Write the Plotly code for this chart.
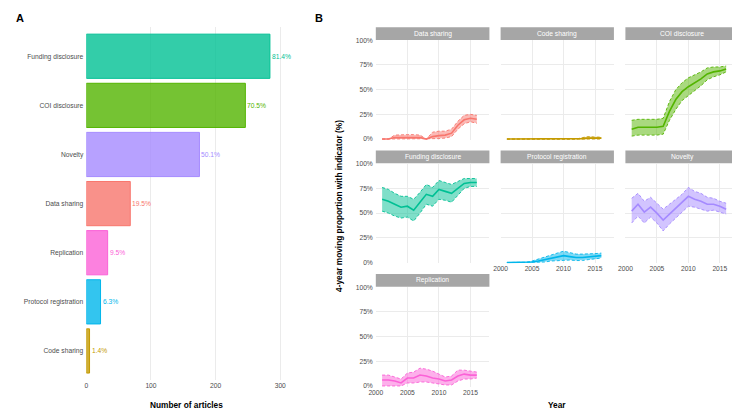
import plotly.graph_objects as go

# ---------------- data ----------------
bar_categories = ["Funding disclosure", "COI disclosure", "Novelty", "Data sharing",
                  "Replication", "Protocol registration", "Code sharing"]
bar_counts = [284, 246, 175, 68, 33, 22, 5]
bar_labels = ["81.4%", "70.5%", "50.1%", "19.5%", "9.5%", "6.3%", "1.4%"]

years = list(range(2001, 2017))

facet_order = ["Data sharing", "Code sharing", "COI disclosure", "Funding disclosure",
               "Protocol registration", "Novelty", "Replication"]

y_tick_vals = [0, 25, 50, 75, 100]
y_tick_text = ["0%", "25%", "50%", "75%", "100%"]
x_tick_vals = [2000, 2005, 2010, 2015]
bar_tick_vals = [0, 100, 200, 300]

data_sharing_mean = [0, 0, 1.5, 1.5, 1.5, 1.5, 1.5, 0, 2.5, 3.5, 4, 6, 14, 19.5, 21, 20]
data_sharing_upper = [0, 0, 4, 4.5, 4.5, 4.5, 4, 0, 7, 8, 8, 10, 18, 24, 25, 24]
data_sharing_lower = [0, 0, 0, 0, 0, 0, 0, 0, 0, 0.5, 1, 2.5, 10, 15.5, 17.5, 16]

code_sharing_mean = [0, 0, 0, 0, 0, 0, 0, 0, 0, 0, 0, 0, 0.5, 1, 1, 1]
code_sharing_upper = [0, 0, 0, 0, 0, 0, 0, 0, 0, 0, 0, 0, 1.5, 2.5, 2, 2]
code_sharing_lower = [0, 0, 0, 0, 0, 0, 0, 0, 0, 0, 0, 0, 0, 0, 0, 0]

coi_mean = [10, 12, 12, 12, 12, 13, 28, 40, 48, 53, 57, 61, 66, 68, 69, 71]
coi_upper = [19, 20, 20, 20, 20, 21, 38, 50, 57, 62, 65, 68, 72, 73, 73, 74]
coi_lower = [3, 4, 4, 4, 4, 5, 19, 30, 39, 44, 49, 54, 60, 63, 65, 68]

funding_mean = [64, 62, 59, 56, 57, 53, 61, 69, 67, 74, 72, 70, 75, 80, 81, 81]
funding_upper = [76, 74, 70, 67, 67, 64, 71, 79, 76, 83, 81, 79, 82, 85, 85, 85]
funding_lower = [52, 50, 47, 45, 46, 42, 50, 59, 57, 64, 63, 61, 68, 75, 77, 77]

protocol_mean = [0, 0, 0, 0, 0.5, 1.5, 3, 4.5, 5.5, 7, 6, 5, 5, 5.5, 6, 7]
protocol_upper = [0, 0, 0, 0, 1.5, 3.5, 6, 8, 10, 11.5, 10, 8.5, 8.5, 8.5, 9, 9.5]
protocol_lower = [0, 0, 0, 0, 0, 0, 0.5, 1.5, 2, 2.5, 2.5, 2, 2, 3, 3.5, 4.5]

novelty_mean = [52, 59, 51, 56, 50, 43, 49, 55, 60, 67, 64, 62, 59, 59, 57, 54]
novelty_upper = [65, 70, 62, 66, 60, 54, 59, 64, 69, 76, 72, 70, 66, 65, 62, 60]
novelty_lower = [40, 47, 40, 46, 40, 32, 39, 45, 51, 57, 56, 54, 52, 53, 51, 49]

replication_mean = [6, 6, 5, 3, 8, 8, 11, 10, 8, 7, 5, 6, 10, 12, 11, 11]
replication_upper = [11, 11, 9, 7, 13, 14, 18, 17, 15, 12, 9, 10, 16, 16, 15, 14]
replication_lower = [0, 0, 0, 0, 3, 3, 4, 4, 3, 2, 1, 1, 5, 7, 7, 8]

series = {
    "Data sharing": (data_sharing_mean, data_sharing_lower, data_sharing_upper),
    "Code sharing": (code_sharing_mean, code_sharing_lower, code_sharing_upper),
    "COI disclosure": (coi_mean, coi_lower, coi_upper),
    "Funding disclosure": (funding_mean, funding_lower, funding_upper),
    "Protocol registration": (protocol_mean, protocol_lower, protocol_upper),
    "Novelty": (novelty_mean, novelty_lower, novelty_upper),
    "Replication": (replication_mean, replication_lower, replication_upper),
}

# ---------------- style ----------------
colors = {
    "Data sharing": (248, 118, 109),
    "Code sharing": (196, 154, 0),
    "COI disclosure": (83, 180, 0),
    "Funding disclosure": (0, 192, 148),
    "Protocol registration": (0, 182, 235),
    "Novelty": (165, 138, 255),
    "Replication": (251, 97, 215),
}


def rgb(c, a=1.0):
    return "rgba(%d,%d,%d,%.2f)" % (c[0], c[1], c[2], a)


# the page body margin places the figure 8px in from the window corner;
# lay everything out in window pixels and convert
OX, OY = 8, 8
W, H = 740 - OX, 411 - OY
FONT = "Liberation Sans, Arial, sans-serif"
TXT = "#4D4D4D"
GRID = "#EBEBEB"
FS = 6.7


def fx(p):
    return (p - OX) / W


def fy(p):
    return 1 - (p - OY) / H


fig = go.Figure()
annotations = []
shapes = []

# ---------------- panel A: bars ----------------
fig.add_trace(go.Bar(
    x=bar_counts, y=bar_categories, orientation="h", width=0.9,
    marker=dict(color=[rgb(colors[c], 0.8) for c in bar_categories],
                line=dict(color=[rgb(colors[c]) for c in bar_categories], width=1)),
    xaxis="x", yaxis="y", hoverinfo="skip",
))
for c, n, lab in zip(bar_categories, bar_counts, bar_labels):
    annotations.append(dict(x=n, y=c, xref="x", yref="y", text=lab, showarrow=False,
                            xanchor="left", xshift=0,
                            font=dict(size=FS, color=rgb(colors[c]), family=FONT)))

layout = dict(
    width=W, height=H, margin=dict(l=0, r=0, t=0, b=0, pad=0),
    paper_bgcolor="white", plot_bgcolor="white", showlegend=False,
    font=dict(family=FONT, size=FS, color=TXT),
    xaxis=dict(domain=[fx(80), fx(283)], range=[0, 311], anchor="y",
               tickvals=bar_tick_vals, showgrid=True, gridcolor=GRID, gridwidth=1,
               zeroline=False, showline=False, ticks="",
               tickfont=dict(size=FS, color=TXT)),
    yaxis=dict(domain=[fy(382), fy(23)], range=[-0.6, 6.6], anchor="x",
               categoryorder="array", categoryarray=bar_categories[::-1],
               showgrid=False, zeroline=False, showline=False, ticks="",
               ticklabelstandoff=2, tickfont=dict(size=FS, color=TXT)),
)

# ---------------- panel B: facets ----------------
col_lr = [(372.3, 487.0), (498.3, 612.7), (624.3, 738.7)]
ROW_STEP = 125.3
xticks_shown = {"Protocol registration", "Novelty", "Replication"}

for i, name in enumerate(facet_order):
    r, c = divmod(i, 3)
    k = i + 2
    xa, ya = "x%d" % k, "y%d" % k
    mean, lower, upper = series[name]
    col = colors[name]
    fig.add_trace(go.Scatter(
        x=years + years[::-1], y=upper + lower[::-1], fill="toself",
        fillcolor=rgb(col, 0.5), line=dict(width=0), mode="lines",
        xaxis=xa, yaxis=ya, hoverinfo="skip"))
    for b in (lower, upper):
        fig.add_trace(go.Scatter(
            x=years, y=b, mode="lines",
            line=dict(color=rgb(col), width=0.9, dash="3px,2px"),
            xaxis=xa, yaxis=ya, hoverinfo="skip"))
    fig.add_trace(go.Scatter(
        x=years, y=mean, mode="lines", line=dict(color=rgb(col), width=1.6),
        xaxis=xa, yaxis=ya, hoverinfo="skip"))

    left, right = col_lr[c]
    top = 36.7 + ROW_STEP * r
    bottom = 138.0 + ROW_STEP * r
    layout["xaxis%d" % k] = dict(
        domain=[fx(left), fx(right)], range=[2000, 2018], anchor=ya,
        tickvals=x_tick_vals, showgrid=True, gridcolor=GRID,
        zeroline=False, showline=False, ticks="",
        showticklabels=name in xticks_shown, tickfont=dict(size=FS, color=TXT))
    layout["yaxis%d" % k] = dict(
        domain=[fy(bottom), fy(top)], range=[-1, 100], anchor=xa,
        tickvals=y_tick_vals, ticktext=y_tick_text, showgrid=True, gridcolor=GRID,
        zeroline=False, showline=False, ticks="", ticklabelstandoff=2,
        showticklabels=(c == 0), tickfont=dict(size=FS, color=TXT))
    s_top = 23.4 + ROW_STEP * r
    s_bot = 36.3 + ROW_STEP * r
    shapes.append(dict(type="rect", xref="paper", yref="paper",
                       x0=fx(left), x1=fx(right), y0=fy(s_bot), y1=fy(s_top),
                       fillcolor="#A6A6A6", line=dict(width=0), layer="above"))
    annotations.append(dict(x=fx((left + right) / 2), y=fy((s_top + s_bot) / 2),
                            xref="paper", yref="paper", text=name, showarrow=False,
                            xanchor="center", yanchor="middle",
                            font=dict(size=FS, color="white", family=FONT)))

annotations += [
    dict(x=fx(181.5), y=fy(406.5), xref="paper", yref="paper", text="<b>Number of articles</b>",
         showarrow=False, xanchor="center", yanchor="middle",
         font=dict(size=8.3, color="black", family=FONT)),
    dict(x=fx(555.5), y=fy(406.5), xref="paper", yref="paper", text="<b>Year</b>",
         showarrow=False, xanchor="center", yanchor="middle",
         font=dict(size=8.3, color="black", family=FONT)),
    dict(x=fx(335), y=fy(205), xref="paper", yref="paper",
         text="<b>4-year moving proportion with indicator (%)</b>", textangle=-90,
         showarrow=False, xanchor="center", yanchor="middle",
         font=dict(size=8.3, color="black", family=FONT)),
    dict(x=0, y=fy(14), xref="paper", yref="paper", text="<b>A</b>",
         showarrow=False, xanchor="left", yanchor="middle", borderpad=0,
         font=dict(size=11, color="black", family=FONT)),
    dict(x=fx(309.5), y=fy(14), xref="paper", yref="paper", text="<b>B</b>",
         showarrow=False, xanchor="left", yanchor="middle", borderpad=0,
         font=dict(size=11, color="black", family=FONT)),
]

layout["annotations"] = annotations
layout["shapes"] = shapes
fig.update_layout(**layout)
fig.write_html("out.html")
